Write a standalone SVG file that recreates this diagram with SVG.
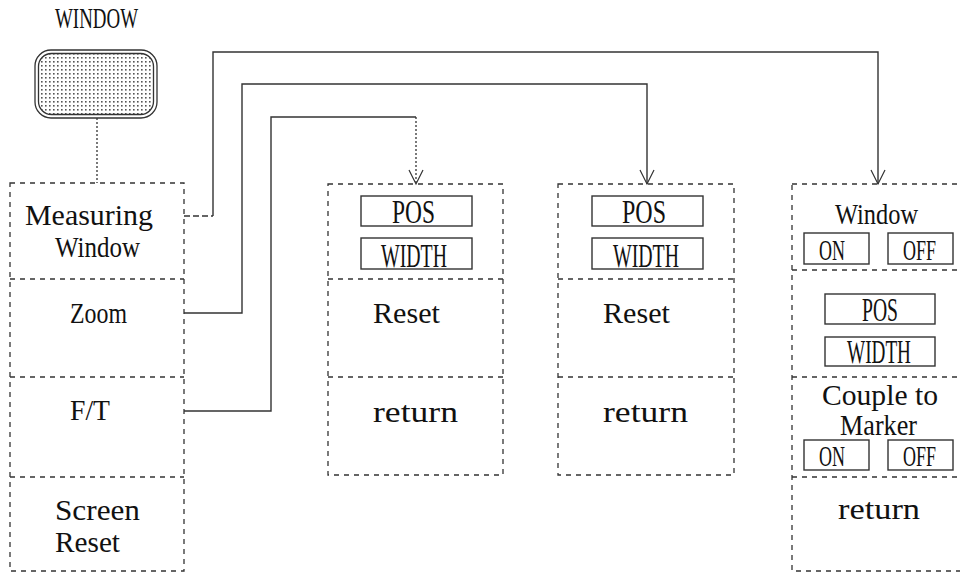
<svg xmlns="http://www.w3.org/2000/svg" width="960" height="576" viewBox="0 0 960 576">
<style>
.box{fill:none;stroke:#333;stroke-width:1.3;stroke-dasharray:5 5}
.div{fill:none;stroke:#333;stroke-width:1.3;stroke-dasharray:5 5}
.btn{fill:#fff;stroke:#333;stroke-width:1.4}
.t{font-family:"Liberation Serif","DejaVu Serif",serif;font-size:29px;fill:#111}
.tb{font-family:"Liberation Serif","DejaVu Serif",serif;font-size:33px;fill:#111}
.ts{font-family:"Liberation Serif","DejaVu Serif",serif;font-size:30px;fill:#111}
.c{fill:none;stroke:#333;stroke-width:1.4}
.cd{fill:none;stroke:#333;stroke-width:1.3;stroke-dasharray:2 2}
.ah{fill:none;stroke:#333;stroke-width:1.2}
</style>
<defs>
<pattern id="dots" width="4" height="4" patternUnits="userSpaceOnUse">
<rect width="4" height="4" fill="#fff"/>
<rect x="1" y="1" width="1.6" height="1.6" fill="#555"/>
</pattern>
</defs>
<rect width="960" height="576" fill="#fff"/>

<g id="window-key">
<text class="t" x="55" y="28" font-size="31" textLength="83" lengthAdjust="spacingAndGlyphs">WINDOW</text>
<rect x="35" y="50" width="122" height="68" rx="16" fill="none" stroke="#333" stroke-width="1.3"/>
<rect x="38.5" y="53.5" width="115" height="61" rx="13" fill="url(#dots)" stroke="#333" stroke-width="1.3"/>
</g>

<g id="menu-main">
<rect class="box" x="10" y="183" width="174" height="388"/>
<line class="div" x1="10" y1="279" x2="184" y2="279"/>
<line class="div" x1="10" y1="377" x2="184" y2="377"/>
<line class="div" x1="10" y1="477" x2="184" y2="477"/>
<text class="t" x="25" y="225" textLength="128" lengthAdjust="spacingAndGlyphs">Measuring</text>
<text class="t" x="55" y="257" textLength="85" lengthAdjust="spacingAndGlyphs">Window</text>
<text class="t" x="70" y="323" textLength="57" lengthAdjust="spacingAndGlyphs">Zoom</text>
<text class="t" x="70" y="420" textLength="40" lengthAdjust="spacingAndGlyphs">F/T</text>
<text class="t" x="55" y="520" textLength="85" lengthAdjust="spacingAndGlyphs">Screen</text>
<text class="t" x="55" y="552" textLength="65" lengthAdjust="spacingAndGlyphs">Reset</text>
</g>

<g id="menu-ft">
<rect class="box" x="328" y="184" width="175" height="291"/>
<line class="div" x1="328" y1="279" x2="503" y2="279"/>
<line class="div" x1="328" y1="377" x2="503" y2="377"/>
<rect class="btn" x="361" y="196" width="111" height="30"/>
<rect class="btn" x="361" y="238" width="111" height="31"/>
<text class="tb" x="392" y="223" textLength="43" lengthAdjust="spacingAndGlyphs">POS</text>
<text class="tb" x="381" y="267" textLength="66" lengthAdjust="spacingAndGlyphs">WIDTH</text>
<text class="t" x="373" y="323" textLength="67" lengthAdjust="spacingAndGlyphs">Reset</text>
<text class="t" x="373" y="422" textLength="85" lengthAdjust="spacingAndGlyphs">return</text>
</g>

<g id="menu-zoom">
<rect class="box" x="558" y="184" width="176" height="291"/>
<line class="div" x1="558" y1="279" x2="734" y2="279"/>
<line class="div" x1="558" y1="377" x2="734" y2="377"/>
<rect class="btn" x="592" y="196" width="111" height="30"/>
<rect class="btn" x="592" y="238" width="111" height="31"/>
<text class="tb" x="622" y="223" textLength="44" lengthAdjust="spacingAndGlyphs">POS</text>
<text class="tb" x="613" y="267" textLength="66" lengthAdjust="spacingAndGlyphs">WIDTH</text>
<text class="t" x="603" y="323" textLength="67" lengthAdjust="spacingAndGlyphs">Reset</text>
<text class="t" x="603" y="422" textLength="85" lengthAdjust="spacingAndGlyphs">return</text>
</g>

<g id="menu-measuring-window">
<rect class="box" x="792" y="184" width="176" height="387"/>
<line class="div" x1="792" y1="270" x2="968" y2="270"/>
<line class="div" x1="792" y1="377" x2="968" y2="377"/>
<line class="div" x1="792" y1="477" x2="968" y2="477"/>
<text class="t" x="835" y="224" textLength="83" lengthAdjust="spacingAndGlyphs">Window</text>
<rect class="btn" x="804" y="233" width="65" height="31"/>
<rect class="btn" x="888" y="233" width="65" height="31"/>
<text class="ts" x="819" y="260" textLength="26" lengthAdjust="spacingAndGlyphs">ON</text>
<text class="ts" x="903" y="260" textLength="33" lengthAdjust="spacingAndGlyphs">OFF</text>
<rect class="btn" x="825" y="294" width="110" height="30"/>
<rect class="btn" x="825" y="337" width="110" height="29"/>
<text class="tb" x="862" y="321" textLength="36" lengthAdjust="spacingAndGlyphs">POS</text>
<text class="tb" x="847" y="363" textLength="64" lengthAdjust="spacingAndGlyphs">WIDTH</text>
<text class="t" x="822" y="405" textLength="116" lengthAdjust="spacingAndGlyphs">Couple to</text>
<text class="t" x="840" y="435" textLength="77" lengthAdjust="spacingAndGlyphs">Marker</text>
<rect class="btn" x="804" y="440" width="65" height="30"/>
<rect class="btn" x="888" y="440" width="65" height="30"/>
<text class="ts" x="819" y="466" textLength="26" lengthAdjust="spacingAndGlyphs">ON</text>
<text class="ts" x="903" y="466" textLength="33" lengthAdjust="spacingAndGlyphs">OFF</text>
<text class="t" x="838" y="519" textLength="82" lengthAdjust="spacingAndGlyphs">return</text>
</g>

<g id="connectors">
<line class="cd" x1="97" y1="118" x2="97" y2="183"/>
<line class="c" x1="184" y1="216" x2="213" y2="216" stroke-dasharray="6 3"/>
<polyline class="c" points="213,216 213,52 878,52 878,184"/>
<polyline class="ah" points="871,170 878,184 885,170"/>
<polyline class="c" points="184,313 242,313 242,84 647,84 647,184"/>
<polyline class="ah" points="640,170 647,184 654,170"/>
<polyline class="c" points="184,411 271,411 271,117 416,117"/>
<line class="cd" x1="416" y1="117" x2="416" y2="184"/>
<polyline class="ah" points="409,170 416,184 423,170"/>
</g>
</svg>
